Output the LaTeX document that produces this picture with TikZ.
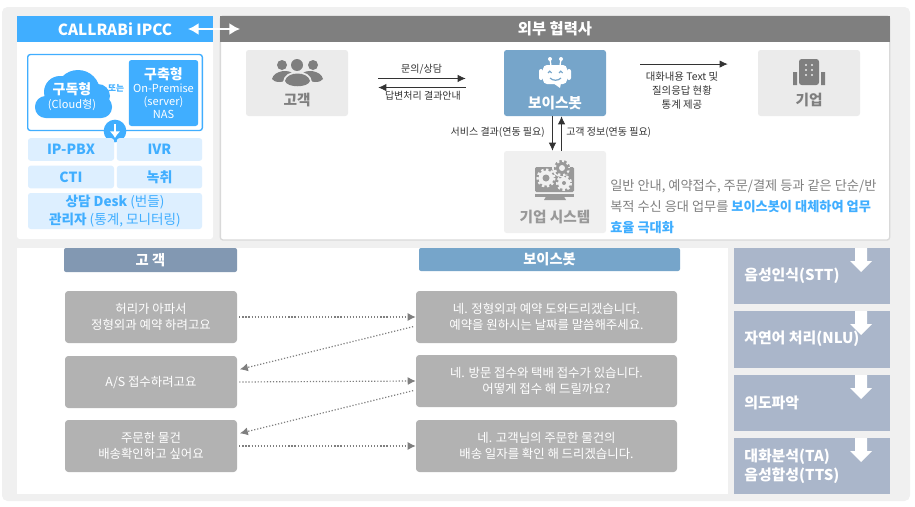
\documentclass[tikz,border=0pt]{standalone}
\usepackage{fontspec}
\setmainfont{Noto Sans CJK KR}
\usepackage{tikz}
\usetikzlibrary{positioning,arrows.meta}
\definecolor{panelbg}{HTML}{F0F0F0}
\definecolor{ipccblue}{HTML}{40AEFF}
\definecolor{lightblue}{HTML}{DDEFFF}
\definecolor{headgray}{HTML}{7F7F7F}
\definecolor{tilegray}{HTML}{EBEBEB}
\definecolor{botblue}{HTML}{76A5CA}
\definecolor{custblue}{HTML}{8298B2}
\definecolor{talkgray}{HTML}{B2B2B2}
\definecolor{stepblue}{HTML}{AAB6CA}
\definecolor{inktext}{HTML}{333333}
\tikzset{
  header/.style={draw=none, font=\bfseries\fontsize{11.5pt}{13pt}\selectfont, text=white, minimum height=19.5pt, inner sep=0pt},
  itembox/.style={fill=lightblue, rounded corners=2pt, text=ipccblue, font=\bfseries\fontsize{10.5pt}{12pt}\selectfont, align=center, inner sep=0pt, minimum height=17pt},
  tile/.style={fill=tilegray, rounded corners=2pt, minimum width=76.5pt, minimum height=49.5pt, inner sep=0pt},
  tilelabel/.style={font=\bfseries\fontsize{11pt}{13pt}\selectfont, text=headgray},
  talk/.style={fill=talkgray, rounded corners=2.5pt, text=white, align=center, font=\fontsize{9.3pt}{12pt}\selectfont, minimum height=39pt, inner sep=0pt},
  stepbox/.style={fill=stepblue, minimum width=117pt, inner sep=0pt},
  steplabel/.style={text=white, font=\bfseries\fontsize{11.2pt}{14.6pt}\selectfont, align=left, anchor=west, inner sep=0pt},
  note/.style={text=inktext, font=\fontsize{7.5pt}{10.5pt}\selectfont, align=center, inner sep=0pt},
  arrow/.style={-{Latex[length=6pt,width=5.5pt]}, inktext, line width=.6pt},
  dotarrow/.style={-{Latex[length=6pt,width=6pt]}, headgray, line width=.9pt, dash pattern=on .9pt off 1.4pt}
}
\newcommand{\dropmark}[2]{\fill[white] (#1-6,#2-24) -- (#1+6,#2-24) -- (#1+6,#2-11) -- (#1+11,#2-11) -- (#1,#2) -- (#1-11,#2-11) -- (#1-6,#2-11) -- cycle;}
\begin{document}
\begin{tikzpicture}[x=0.75pt, y=-0.75pt]
  \useasboundingbox (0,0) rectangle (915,507);
  \fill[panelbg, rounded corners=4pt] (2,7) rectangle (910,501);

  % left panel
  \fill[white, rounded corners=2pt] (17,16) rectangle (213,239);
  \node[header, fill=ipccblue, minimum width=147pt] (ipcchead) at (115,29) {CALLRABi IPCC};
  \node[draw=ipccblue, line width=1pt, rounded corners=2pt, minimum width=131pt, minimum height=57pt, inner sep=0pt] (frame) at (115,92.5) {};
  % cloud
  \fill[ipccblue, rounded corners=8pt] (35,96) rectangle (112,118);
  \fill[ipccblue] (78,92) circle (22) (60,92) circle (16) (98,96) circle (12);
  \node[text=white, align=center, font=\fontsize{8.3pt}{10.5pt}\selectfont, inner sep=0pt] (cloudtext) at (72,97) {{\bfseries\fontsize{10.5pt}{12pt}\selectfont 구독형}\\(Cloud형)};
  \node[text=ipccblue, font=\bfseries\fontsize{6.5pt}{8pt}\selectfont, inner sep=0pt] (oror) at (116,88) {또는};
  \node[fill=ipccblue, rounded corners=2pt, text=white, align=center, minimum width=52pt, minimum height=49.5pt, inner sep=0pt, font=\fontsize{8.3pt}{9.6pt}\selectfont] (onprem) at (163.5,93) {{\bfseries\fontsize{10.5pt}{12pt}\selectfont 구축형}\\On-Premise\\(server)\\NAS};
  \node[circle, fill=ipccblue, minimum size=17pt, inner sep=0pt] (downdot) at (115,131) {};
  \draw[white, line width=2pt, -{Latex[length=5pt,width=8pt]}] (115,124) -- (115,138);

  \node[itembox, minimum width=64.5pt] (pbx) at (71,149.5) {IP-PBX};
  \node[itembox, minimum width=64pt] (ivr) at (159.5,149.5) {IVR};
  \node[itembox, minimum width=64.5pt] (cti) at (71,177) {CTI};
  \node[itembox, minimum width=64pt] (rec) at (159.5,177) {녹취};
  \node[itembox, minimum width=130.5pt, minimum height=27pt, font=\fontsize{10.2pt}{13.5pt}\selectfont] (desk) at (115,211) {{\bfseries 상담 Desk} (번들)\\{\bfseries 관리자} (통계, 모니터링)};

  % right panel
  \node[fill=white, draw=black!15, line width=1pt, rounded corners=2pt, minimum width=502pt, minimum height=168pt, inner sep=0pt] (extpanel) at (555,128) {};
  \node[header, fill=headgray, minimum width=502pt] (exthead) at (555,29) {외부 협력사};
  \draw[white, line width=1.6pt, {Latex[length=8pt,width=9pt]}-{Latex[length=8pt,width=9pt]}, shorten <=-19pt, shorten >=-15pt] (ipcchead.east) -- (exthead.west);

  \node[tile] (cust) at (297,83) {};
  \node[tile, fill=botblue] (bot) at (555,83) {};
  \node[tile] (corp) at (809,83) {};
  \node[tile, fill=panelbg, minimum height=61.5pt] (sys) at (555,192) {};
  \node[tilelabel] (custlabel) at (297,100) {고객};
  \node[tilelabel, text=white] (botlabel) at (555,103) {보이스봇};
  \node[tilelabel] (corplabel) at (809,100) {기업};
  \node[tilelabel, text=black!40] (syslabel) at (555,217) {기업 시스템};

  % people icon
  \fill[headgray] (282,65) circle (5) (313,65) circle (5);
  \fill[headgray] (272,79) .. controls (274,70) and (290,69) .. (293,74) -- (293,80) -- (280,82) .. controls (276,82) and (273,81) .. (272,79) -- cycle;
  \fill[headgray] (323,79) .. controls (321,70) and (305,69) .. (302,74) -- (302,80) -- (315,82) .. controls (319,82) and (322,81) .. (323,79) -- cycle;
  \fill[tilegray] (297,65) circle (7.5);
  \fill[headgray] (297,65) circle (6);
  \fill[tilegray] (283,82) .. controls (284,68) and (311,68) .. (312,82) .. controls (310,90) and (285,90) .. (283,82) -- cycle;
  \fill[headgray] (285,81) .. controls (287,71) and (308,71) .. (310,81) .. controls (308,88) and (287,88) .. (285,81) -- cycle;

  % robot icon
  \fill[white, rounded corners=3pt] (543,65) rectangle (567,84);
  \fill[white] (553,83) -- (561,83) -- (560,88) -- cycle;
  \fill[white] (550,59) circle (2) (561,59) circle (2);
  \draw[white, line width=1pt] (550,59) -- (551,66) (561,59) -- (560,66);
  \fill[white, rounded corners=1.5pt] (539,69) rectangle (543,80) (567,69) rectangle (571,80);
  \draw[botblue, line width=.9pt] (548,73) arc (180:360:1.8) (559,73) arc (180:360:1.8);
  \draw[botblue, line width=.9pt] (550,78) .. controls (553,81) and (558,81) .. (561,78);

  % building icon
  \fill[headgray, rounded corners=2pt] (799,59) rectangle (819,85);
  \fill[headgray] (793,72) rectangle (797,85) (821,72) rectangle (825,85);
  \foreach \yy in {65,70,75} \foreach \xx in {806,812} \fill[tilegray] (\xx,\yy) circle (1.1);

  % monitor with gears icon
  \fill[black!40, rounded corners=1pt] (535,167) rectangle (574,192);
  \fill[black!40] (535,193.5) rectangle (574,196.5);
  \fill[black!40] (546,196.5) -- (564,196.5) -- (566,200) -- (544,200) -- cycle;
  \fill[panelbg] (561,168) circle (9);
  \foreach \gx/\gy/\gr in {546/178/6,564/183/4.5} {
    \fill[panelbg] (\gx,\gy) circle (\gr+1.5);
    \draw[panelbg, line width=2pt, dash pattern=on 1.8pt off 1.8pt] (\gx,\gy) circle (\gr+2.2);
    \fill[black!40] (\gx,\gy) circle (\gr-2.5);
  }
  \fill[black!40] (562,168) circle (6);
  \draw[black!40, line width=2pt, dash pattern=on 1.8pt off 1.8pt] (562,168) circle (6.7);
  \fill[panelbg] (562,168) circle (3);

  % arrows in the upper panel
  \node[note, above=6pt of cust.east, xshift=55pt] (asklabel) {문의/상담};
  \node[note, below=6pt of cust.east, xshift=56pt] (replylabel) {답변처리 결과안내};
  \draw[arrow, transform canvas={yshift=3.4pt}, shorten <=22.5pt, shorten >=28.5pt] (cust.east) -- (bot.west);
  \draw[arrow, transform canvas={yshift=-3.4pt}, shorten <=28.5pt, shorten >=22.5pt] (bot.west) -- (cust.east);
  \draw[arrow, transform canvas={yshift=14.2pt}, shorten <=25.5pt, shorten >=22.5pt] (bot.east) -- (corp.west);
  \node[note, font=\fontsize{7.8pt}{10.5pt}\selectfont] (statslabel) at (682,91) {대화내용 Text 및\\질의응답 현황\\통계 제공};
  \draw[arrow, transform canvas={xshift=-1.9pt}] (bot.south) -- (sys.north);
  \draw[arrow, transform canvas={xshift=4.9pt}] (sys.north) -- (bot.south);
  \node[note, anchor=east] (resultlabel) at (545,132) {서비스 결과(연동 필요)};
  \node[note, anchor=west] (infolabel) at (566,132) {고객 정보(연동 필요)};
  \node[text=black!50, align=left, anchor=north west, inner sep=0pt, font=\fontsize{9.9pt}{16pt}\selectfont] (summary) at (610,179) {일반 안내, 예약접수, 주문/결제 등과 같은 단순/반\\복적 수신 응대 업무를 {\bfseries\color{ipccblue}보이스봇이 대체하여 업무}\\{\bfseries\color{ipccblue}효율 극대화}};

  % lower panel
  \fill[white] (17,248) rectangle (728,494);
  \node[header, fill=custblue, rounded corners=1.5pt, minimum width=129.75pt, minimum height=18pt, font=\bfseries\fontsize{10.7pt}{12pt}\selectfont] (custhead) at (150.5,260) {고 객};
  \node[header, fill=botblue, rounded corners=1.5pt, minimum width=195.75pt, minimum height=17.25pt, font=\bfseries\fontsize{10.7pt}{12pt}\selectfont] (bothead) at (549.5,259.5) {보이스봇};

  \node[talk, minimum width=129pt] (ask1) at (151,317) {허리가 아파서\\정형외과 예약 하려고요};
  \node[talk, minimum width=129pt] (ask2) at (151,382) {A/S 접수하려고요};
  \node[talk, minimum width=129pt] (ask3) at (151,446) {주문한 물건\\배송확인하고 싶어요};
  \node[talk, minimum width=195.75pt] (ans1) at (546.5,317) {네. 정형외과 예약 도와드리겠습니다.\\예약을 원하시는 날짜를 말씀해주세요.};
  \node[talk, minimum width=195.75pt] (ans2) at (546.5,381) {네. 방문 접수와 택배 접수가 있습니다.\\어떻게 접수 해 드릴까요?};
  \node[talk, minimum width=195.75pt] (ans3) at (546.5,446) {네. 고객님의 주문한 물건의\\배송 일자를 확인 해 드리겠습니다.};

  \draw[dotarrow, shorten <=1.5pt] (ask1.east) -- (ans1.west);
  \draw[dotarrow, shorten <=1.5pt] (ask2.east) -- (ans2.west);
  \draw[dotarrow, shorten <=1.5pt] (ask3.east) -- (ans3.west);
  \draw[dotarrow, shorten <=2pt, shorten >=2pt] ([yshift=-6.75pt]ans1.west) -- ([yshift=9pt]ask2.east);
  \draw[dotarrow, shorten <=2pt, shorten >=2pt] ([yshift=-6.75pt]ans2.west) -- ([yshift=9pt]ask3.east);

  % steps on the right
  \node[stepbox, minimum height=42pt] (stt) at (812,276) {};
  \node[stepbox, minimum height=42.75pt] (nlu) at (812,339.5) {};
  \node[stepbox, minimum height=42pt] (intent) at (812,403) {};
  \node[stepbox, minimum height=42pt] (tts) at (812,466) {};
  \dropmark{861}{272}
  \dropmark{861}{335}
  \dropmark{861}{399}
  \dropmark{861}{462}
  \node[steplabel] (sttlabel) at (744,276) {음성인식(STT)};
  \node[steplabel] (nlulabel) at (744,339) {자연어 처리(NLU)};
  \node[steplabel] (intentlabel) at (744,403) {의도파악};
  \node[steplabel] (ttslabel) at (744,466) {대화분석(TA)\\음성합성(TTS)};
\end{tikzpicture}
\end{document}
